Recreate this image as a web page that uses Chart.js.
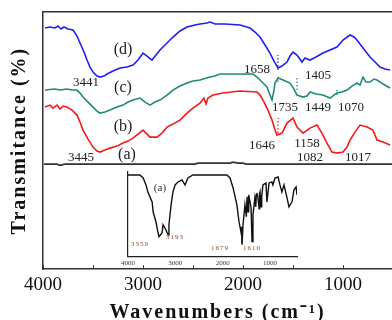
<!DOCTYPE html>
<html>
<head>
<meta charset="utf-8">
<script src="https://cdn.jsdelivr.net/npm/chart.js@4.4.1/dist/chart.umd.min.js"></script>
<style>
  body { margin: 0; background: #fff; }
  #wrap { position: relative; width: 392px; height: 320px; }
  #inset { position: absolute; left: 100px; top: 160px; }
</style>
</head>
<body>
<div id="wrap">
  <canvas id="Chart" width="392" height="320"></canvas>
  <canvas id="inset" width="210" height="115"></canvas>
</div>
<script>
// main spectra: wavenumber (cm-1) and transmittance (offset, arbitrary units)
var waveD = [3980,3930,3880,3850,3820,3790,3750,3700,3660,3630,3590,3560,3530,3500,3460,3430,3390,3360,3300,3230,3160,3100,3050,3000,2960,2910,2870,2830,2780,2700,2630,2560,2480,2430,2360,2330,2280,2180,2030,1930,1880,1830,1780,1730,1690,1650,1610,1560,1530,1500,1460,1410,1380,1330,1270,1200,1130,1060,1000,930,890,860,800,730,680,630,580,530];
var transD = [241,242,241,243,240,242,240,239,233,226,217,209,202,197,193,192,193,195,198,201,202,204,209,216,213,209,214,219,224,232,238,242,244,245,246,247,245,245,244,241,237,232,224,216,208,201,203,207,213,217,214,207,211,209,212,216,219,222,229,234,232,229,221,212,207,202,200,199];

var waveC = [3980,3880,3830,3760,3710,3660,3630,3600,3550,3500,3460,3430,3380,3330,3260,3200,3150,3100,3030,2980,2930,2880,2830,2760,2700,2630,2560,2500,2430,2330,2280,2230,2130,2030,1900,1860,1830,1790,1760,1730,1710,1690,1680,1650,1600,1530,1490,1460,1400,1360,1330,1270,1200,1130,1090,1060,1010,960,910,860,830,800,770,730,690,660,600,530];
var transC = [179,180,179,180,179,179,176,172,167,162,158,156,157,159,162,164,167,169,171,167,164,167,169,174,179,183,186,188,189,192,193,195,195,195,195,192,189,185,182,174,169,179,186,191,189,186,180,174,172,173,177,175,174,171,174,176,177,179,183,186,184,192,187,187,190,189,185,181];

var waveB = [3980,3930,3900,3860,3830,3800,3760,3710,3660,3630,3600,3550,3500,3460,3430,3380,3330,3260,3200,3150,3100,3050,3000,2960,2930,2860,2810,2760,2700,2630,2560,2500,2430,2390,2370,2350,2300,2200,2030,1860,1830,1800,1750,1710,1680,1660,1610,1560,1500,1460,1400,1330,1260,1230,1200,1160,1110,1060,1000,960,930,880,830,760,700,660,600,530];
var transB = [162,164,161,164,160,163,162,159,154,147,139,130,122,118,117,119,121,123,126,128,131,135,139,135,132,132,136,142,145,149,156,161,166,171,165,171,174,176,178,177,174,169,159,149,139,134,136,146,151,142,136,141,144,139,134,126,117,116,117,122,129,137,144,142,139,129,127,124];

var waveA = [3990,3860,3840,3810,3790,2480,2450,2130,2100,2050,2000,1970,510];
var transA = [105,105,104,104,105,105,106,106,107,106,106,105,105];

// inset spectrum
var insetWave = [4000,3750,3680,3620,3580,3490,3470,3410,3370,3345,3280,3260,3200,3155,3135,3090,3050,3005,2945,2860,2795,2735,2630,2060,1910,1845,1780,1700,1655,1615,1600,1595,1590,1570,1530,1500,1485,1465,1455,1445,1400,1380,1360,1320,1300,1290,1275,1255,1230,1220,1210,1190,1180,1170,1150,1085,1065,1020,960,940,895,830,790,750,705,640,600,535,495,450,430];
var insetTrans = [82,82,79,72,65,55,45,35,25,20,24,32,27,22,32,52,65,72,75,77,72,79,82,82,82,79,69,52,35,25,30,14,12,32,52,40,60,45,62,62,49,15,42,59,50,62,64,59,48,63,65,50,62,60,72,74,55,74,75,72,79,80,72,65,72,59,50,55,67,70,62];

// ticks and tick labels
var xTicks = [4000, 3500, 3000, 2500, 2000, 1500, 1000];
var xTickLabels = [4000, 3000, 2000, 1000];
var insetTickLabels = [4000, 3000, 2000, 1000];

// curve names and peak annotations
var curveText = ["(d)", "(c)", "(b)", "(a)"];
var curveWave = [3200, 3200, 3200, 3160];
var curveLevel = [219, 181, 142, 114];

var peakText = ["3441", "3445", "1658", "1405", "1735", "1449", "1070", "1646", "1158", "1082", "1017"];
var peakWave = [3570, 3620, 1860, 1250, 1580, 1250, 920, 1810, 1360, 1330, 850];
var peakLevel = [186, 112, 199, 193, 161, 161, 161, 124, 126, 112, 112];

var markSeries = ["d", "c", "c", "c", "b"];
var markWave = [1650, 1650, 1460, 1060, 1650];
var markLow = [199, 187, 179, 174, 136];
var markHigh = [214, 194, 192, 181, 151];

var insetText = ["(a)", "3359", "3193", "1679", "1610"];
var insetLabelWave = [3325, 3747, 3007, 2057, 1381];
var insetLabelLevel = [69, 13, 20, 8, 8];

var colors = { d: "#1e1ef5", c: "#1e8a78", b: "#f51a1a", a: "#333333" };
var serif = "'Liberation Serif', 'Times New Roman', serif";

function pts(xs, ys) {
  return xs.map(function (x, i) { return { x: x, y: ys[i] }; });
}

function lineSet(xs, ys, color) {
  return { data: pts(xs, ys), borderColor: color, borderWidth: 1.6, pointRadius: 0, tension: 0, xAxisID: "x", yAxisID: "y" };
}

var spacingPlugin = {
  id: "spacing",
  beforeDraw: function (chart) { chart.ctx.letterSpacing = "2px"; },
  beforeDatasetsDraw: function (chart) { chart.ctx.letterSpacing = "0px"; },
};

var annotatePlugin = {
  id: "annotate",
  afterDraw: function (chart) {
    var ctx = chart.ctx, xs = chart.scales.x, ys = chart.scales.y;
    ctx.save();
    ctx.letterSpacing = "0px";
    // inward ticks
    ctx.strokeStyle = "#333";
    ctx.lineWidth = 1;
    xs.ticks.forEach(function (t) {
      var px = Math.round(xs.getPixelForValue(t.value)) + 0.5;
      ctx.beginPath();
      ctx.moveTo(px, chart.chartArea.bottom);
      ctx.lineTo(px, chart.chartArea.bottom - 4);
      ctx.stroke();
    });
    ctx.fillStyle = "#222";
    ctx.textAlign = "center";
    ctx.textBaseline = "middle";
    ctx.font = "16px " + serif;
    curveText.forEach(function (t, i) {
      ctx.fillText(t, xs.getPixelForValue(curveWave[i]), ys.getPixelForValue(curveLevel[i]));
    });
    ctx.font = "13px " + serif;
    peakText.forEach(function (t, i) {
      ctx.fillText(t, xs.getPixelForValue(peakWave[i]), ys.getPixelForValue(peakLevel[i]));
    });
    ctx.restore();
  },
};

var insetLabelPlugin = {
  id: "insetLabels",
  afterDraw: function (chart) {
    var ctx = chart.ctx, xs = chart.scales.x, ys = chart.scales.y;
    ctx.save();
    ctx.textAlign = "center";
    ctx.textBaseline = "middle";
    insetText.forEach(function (t, i) {
      ctx.font = (i === 0 ? "11px " : "7px ") + serif;
      ctx.fillStyle = i === 0 ? "#334" : "#8b4a2b";
      ctx.letterSpacing = i === 0 ? "0px" : "1px";
      ctx.fillText(t, xs.getPixelForValue(insetLabelWave[i]), ys.getPixelForValue(insetLabelLevel[i]));
    });
    ctx.restore();
  },
};

function initializeChart() {
  var datasets = [
    lineSet(waveD, transD, colors.d),
    lineSet(waveC, transC, colors.c),
    lineSet(waveB, transB, colors.b),
    lineSet(waveA, transA, colors.a),
  ];
  markWave.forEach(function (w, i) {
    var ds = lineSet([w, w], [markLow[i], markHigh[i]], colors[markSeries[i]]);
    ds.borderWidth = 1.2;
    ds.borderDash = [1.5, 2];
    datasets.push(ds);
  });

  var ctx = document.getElementById("Chart").getContext("2d");
  if (window.myChart) window.myChart.destroy();
  window.myChart = new Chart(ctx, {
    type: "line",
    data: { datasets: datasets },
    plugins: [spacingPlugin, annotatePlugin],
    options: {
      animation: false,
      responsive: false,
      layout: { padding: { left: 8, top: 12, right: 0, bottom: 0 } },
      plugins: { legend: { display: false }, tooltip: { enabled: false } },
      scales: {
        x: {
          type: "linear",
          reverse: true,
          min: 510,
          max: 4000,
          afterBuildTicks: function (scale) {
            scale.ticks = xTicks.map(function (v) { return { value: v }; });
          },
          grid: { display: false, drawTicks: false },
          border: { display: true, color: "#333", width: 1.5 },
          ticks: {
            z: 1,
            autoSkip: false,
            maxRotation: 0,
            padding: 4,
            color: "#111",
            font: { size: 19, family: serif },
            callback: function (v) { return xTickLabels.indexOf(v) >= 0 ? String(v) : ""; },
          },
          title: {
            display: true,
            text: "Wavenumbers (cm\u207B\u00B9)",
            color: "#111",
            padding: { top: 3, bottom: -3 },
            font: { size: 20, weight: "bold", family: serif, lineHeight: 1 },
          },
        },
        x2: {
          type: "linear",
          position: "top",
          min: 0,
          max: 1,
          grid: { display: false, drawTicks: false },
          border: { display: true, color: "#333", width: 1.5 },
          ticks: { display: false },
        },
        y: {
          type: "linear",
          min: 0,
          max: 257,
          grid: { display: false, drawTicks: false },
          border: { display: true, color: "#333", width: 1.5 },
          ticks: { display: false },
          title: {
            display: true,
            text: "Transmitance (%)",
            color: "#111",
            padding: { top: 0, bottom: 11 },
            font: { size: 20, weight: "bold", family: serif },
          },
        },
      },
    },
  });

  var ictx = document.getElementById("inset").getContext("2d");
  if (window.insetChart) window.insetChart.destroy();
  window.insetChart = new Chart(ictx, {
    type: "line",
    data: {
      datasets: [
        { data: pts(insetWave, insetTrans), borderColor: "#111", borderWidth: 1.4, pointRadius: 0, tension: 0 },
      ],
    },
    plugins: [insetLabelPlugin],
    options: {
      animation: false,
      responsive: false,
      layout: { padding: { left: 28, top: 12, right: 13, bottom: 6 } },
      plugins: { legend: { display: false }, tooltip: { enabled: false } },
      scales: {
        x: {
          type: "linear",
          reverse: true,
          min: 430,
          max: 4000,
          afterBuildTicks: function (scale) {
            scale.ticks = insetTickLabels.map(function (v) { return { value: v }; });
          },
          grid: { display: false, drawTicks: false },
          border: { display: true, color: "#222", width: 1.2 },
          ticks: {
            autoSkip: false,
            maxRotation: 0,
            padding: 2,
            color: "#4a3030",
            font: { size: 7, family: serif },
            callback: function (v) { return String(v); },
          },
        },
        y: {
          type: "linear",
          min: 0,
          max: 85,
          grid: { display: false, drawTicks: false },
          border: { display: true, color: "#222", width: 1.2 },
          ticks: { display: false },
        },
      },
    },
  });
}

window.onload = function () {
  initializeChart();
};
</script>
</body>
</html>
